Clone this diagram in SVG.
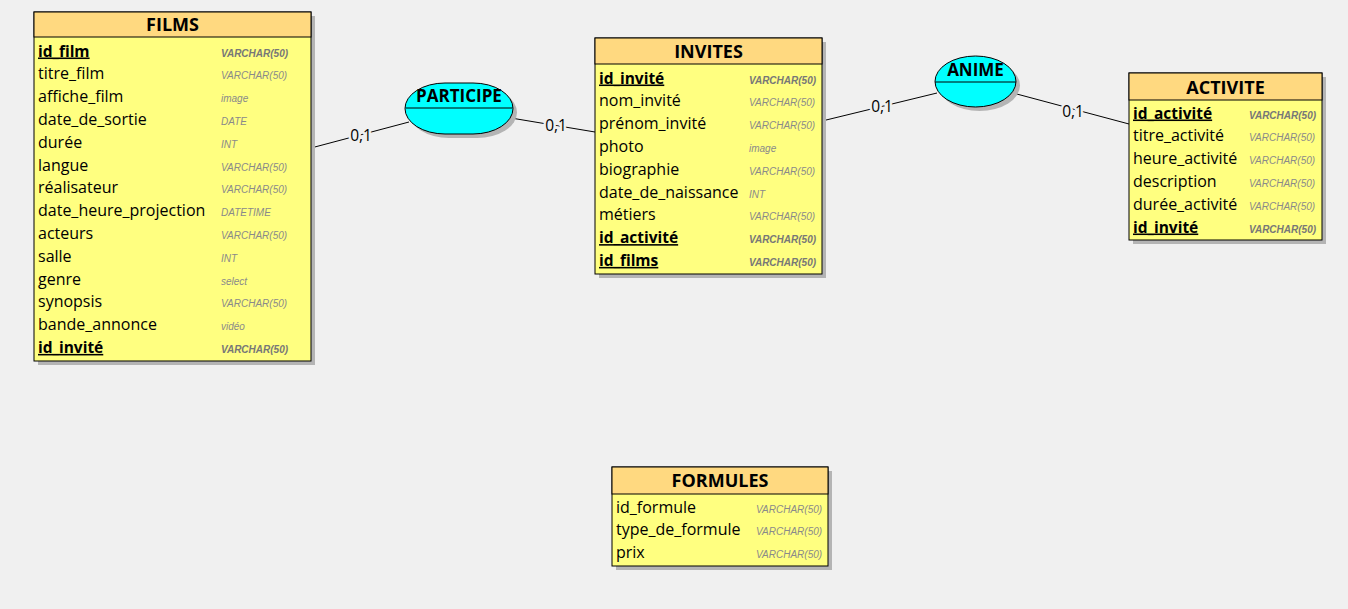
<svg xmlns="http://www.w3.org/2000/svg" width="1348" height="609" viewBox="0 0 1348 609">
<style>
.bg{fill:#F0F0F0}
.shadow{fill:#B4B4B4}
.head{fill:#FFD980;stroke:#000;stroke-width:1}
.body{fill:#FFFF80;stroke:#000;stroke-width:1}
.title{font-family:"Open Sans","Liberation Sans",Arial,sans-serif;font-weight:bold;font-size:18px;fill:#000;text-anchor:middle}
.f{font-family:"Open Sans","Liberation Sans",Arial,sans-serif;font-size:16px;fill:#000}
.k{font-weight:bold;font-size:15.5px;text-decoration:underline}
.t{font-family:"Liberation Sans",Arial,sans-serif;font-style:italic;font-size:10px;fill:#8A8A8A}
.tk{font-weight:bold;fill:#777}
.rel{fill:#00FFFF;stroke:#000;stroke-width:1}
.rtitle{font-family:"Open Sans","Liberation Sans",Arial,sans-serif;font-weight:bold;font-size:17px;fill:#000;text-anchor:middle}
.link{stroke:#000;stroke-width:1;fill:none}
.card{font-family:"Open Sans","Liberation Sans",Arial,sans-serif;font-size:15.5px;fill:#000;text-anchor:middle;paint-order:stroke;stroke:#F0F0F0;stroke-width:5px}
</style>
<rect class="bg" x="0" y="0" width="1348" height="609"/>

<g id="connectors">
<line class="link" x1="311" y1="148" x2="409" y2="122"/>
<line class="link" x1="511" y1="118" x2="595" y2="132"/>
<line class="link" x1="822" y1="121" x2="937" y2="93"/>
<line class="link" x1="1013" y1="93" x2="1129" y2="124"/>
<text class="card" x="361" y="141">0,1</text>
<text class="card" x="556" y="131">0,1</text>
<text class="card" x="882" y="112">0,1</text>
<text class="card" x="1073" y="117">0,1</text>
</g>

<g id="films">
<rect class="shadow" x="38" y="16" width="277" height="349"/>
<rect class="body" x="34" y="12" width="277" height="349"/>
<rect class="head" x="34" y="12" width="277" height="25"/>
<text class="title" x="172.5" y="31">FILMS</text>
<text class="f k" x="38" y="56.5">id_film</text><text class="t tk" x="221" y="56.5">VARCHAR(50)</text>
<text class="f" x="38" y="79.3">titre_film</text><text class="t" x="221" y="79.3">VARCHAR(50)</text>
<text class="f" x="38" y="102.1">affiche_film</text><text class="t" x="221" y="102.1">image</text>
<text class="f" x="38" y="124.9">date_de_sortie</text><text class="t" x="221" y="124.9">DATE</text>
<text class="f" x="38" y="147.7">durée</text><text class="t" x="221" y="147.7">INT</text>
<text class="f" x="38" y="170.5">langue</text><text class="t" x="221" y="170.5">VARCHAR(50)</text>
<text class="f" x="38" y="193.3">réalisateur</text><text class="t" x="221" y="193.3">VARCHAR(50)</text>
<text class="f" x="38" y="216.1">date_heure_projection</text><text class="t" x="221" y="216.1">DATETIME</text>
<text class="f" x="38" y="238.9">acteurs</text><text class="t" x="221" y="238.9">VARCHAR(50)</text>
<text class="f" x="38" y="261.7">salle</text><text class="t" x="221" y="261.7">INT</text>
<text class="f" x="38" y="284.5">genre</text><text class="t" x="221" y="284.5">select</text>
<text class="f" x="38" y="307.3">synopsis</text><text class="t" x="221" y="307.3">VARCHAR(50)</text>
<text class="f" x="38" y="330.1">bande_annonce</text><text class="t" x="221" y="330.1">vidéo</text>
<text class="f k" x="38" y="352.9">id_invité</text><text class="t tk" x="221" y="352.9">VARCHAR(50)</text>
</g>

<g id="participe">
<rect class="shadow" x="409" y="87" width="108" height="51" rx="40" ry="25.5"/>
<rect class="rel" x="405" y="83" width="108" height="51" rx="40" ry="25.5"/>
<line class="link" x1="405.5" y1="108" x2="512.5" y2="108"/>
<text class="rtitle" x="459" y="102">PARTICIPE</text>
</g>

<g id="invites">
<rect class="shadow" x="599" y="42" width="227" height="236"/>
<rect class="body" x="595" y="38" width="227" height="236"/>
<rect class="head" x="595" y="38" width="227" height="26"/>
<text class="title" x="708.5" y="57.5">INVITES</text>
<text class="f k" x="599" y="83.5">id_invité</text><text class="t tk" x="749" y="83.5">VARCHAR(50)</text>
<text class="f" x="599" y="106.3">nom_invité</text><text class="t" x="749" y="106.3">VARCHAR(50)</text>
<text class="f" x="599" y="129.1">prénom_invité</text><text class="t" x="749" y="129.1">VARCHAR(50)</text>
<text class="f" x="599" y="151.9">photo</text><text class="t" x="749" y="151.9">image</text>
<text class="f" x="599" y="174.7">biographie</text><text class="t" x="749" y="174.7">VARCHAR(50)</text>
<text class="f" x="599" y="197.5">date_de_naissance</text><text class="t" x="749" y="197.5">INT</text>
<text class="f" x="599" y="220.3">métiers</text><text class="t" x="749" y="220.3">VARCHAR(50)</text>
<text class="f k" x="599" y="243.1">id_activité</text><text class="t tk" x="749" y="243.1">VARCHAR(50)</text>
<text class="f k" x="599" y="265.9">id_films</text><text class="t tk" x="749" y="265.9">VARCHAR(50)</text>
</g>

<g id="anime">
<ellipse class="shadow" cx="979.5" cy="85.5" rx="40.5" ry="25.5"/>
<ellipse class="rel" cx="975.5" cy="81.5" rx="40.5" ry="25.5"/>
<line class="link" x1="935" y1="82" x2="1016" y2="82"/>
<text class="rtitle" x="975.5" y="76">ANIME</text>
</g>

<g id="activite">
<rect class="shadow" x="1133" y="77" width="193" height="167"/>
<rect class="body" x="1129" y="73" width="193" height="167"/>
<rect class="head" x="1129" y="73" width="193" height="27"/>
<text class="title" x="1225.5" y="93.5">ACTIVITE</text>
<text class="f k" x="1133" y="118.5">id_activité</text><text class="t tk" x="1249" y="118.5">VARCHAR(50)</text>
<text class="f" x="1133" y="141.3">titre_activité</text><text class="t" x="1249" y="141.3">VARCHAR(50)</text>
<text class="f" x="1133" y="164.1">heure_activité</text><text class="t" x="1249" y="164.1">VARCHAR(50)</text>
<text class="f" x="1133" y="186.9">description</text><text class="t" x="1249" y="186.9">VARCHAR(50)</text>
<text class="f" x="1133" y="209.7">durée_activité</text><text class="t" x="1249" y="209.7">VARCHAR(50)</text>
<text class="f k" x="1133" y="232.5">id_invité</text><text class="t tk" x="1249" y="232.5">VARCHAR(50)</text>
</g>

<g id="formules">
<rect class="shadow" x="616" y="471" width="216" height="99"/>
<rect class="body" x="612" y="467" width="216" height="99"/>
<rect class="head" x="612" y="467" width="216" height="27"/>
<text class="title" x="720" y="486.5">FORMULES</text>
<text class="f" x="616" y="512.5">id_formule</text><text class="t" x="756" y="512.5">VARCHAR(50)</text>
<text class="f" x="616" y="535.3">type_de_formule</text><text class="t" x="756" y="535.3">VARCHAR(50)</text>
<text class="f" x="616" y="558.1">prix</text><text class="t" x="756" y="558.1">VARCHAR(50)</text>
</g>
</svg>
